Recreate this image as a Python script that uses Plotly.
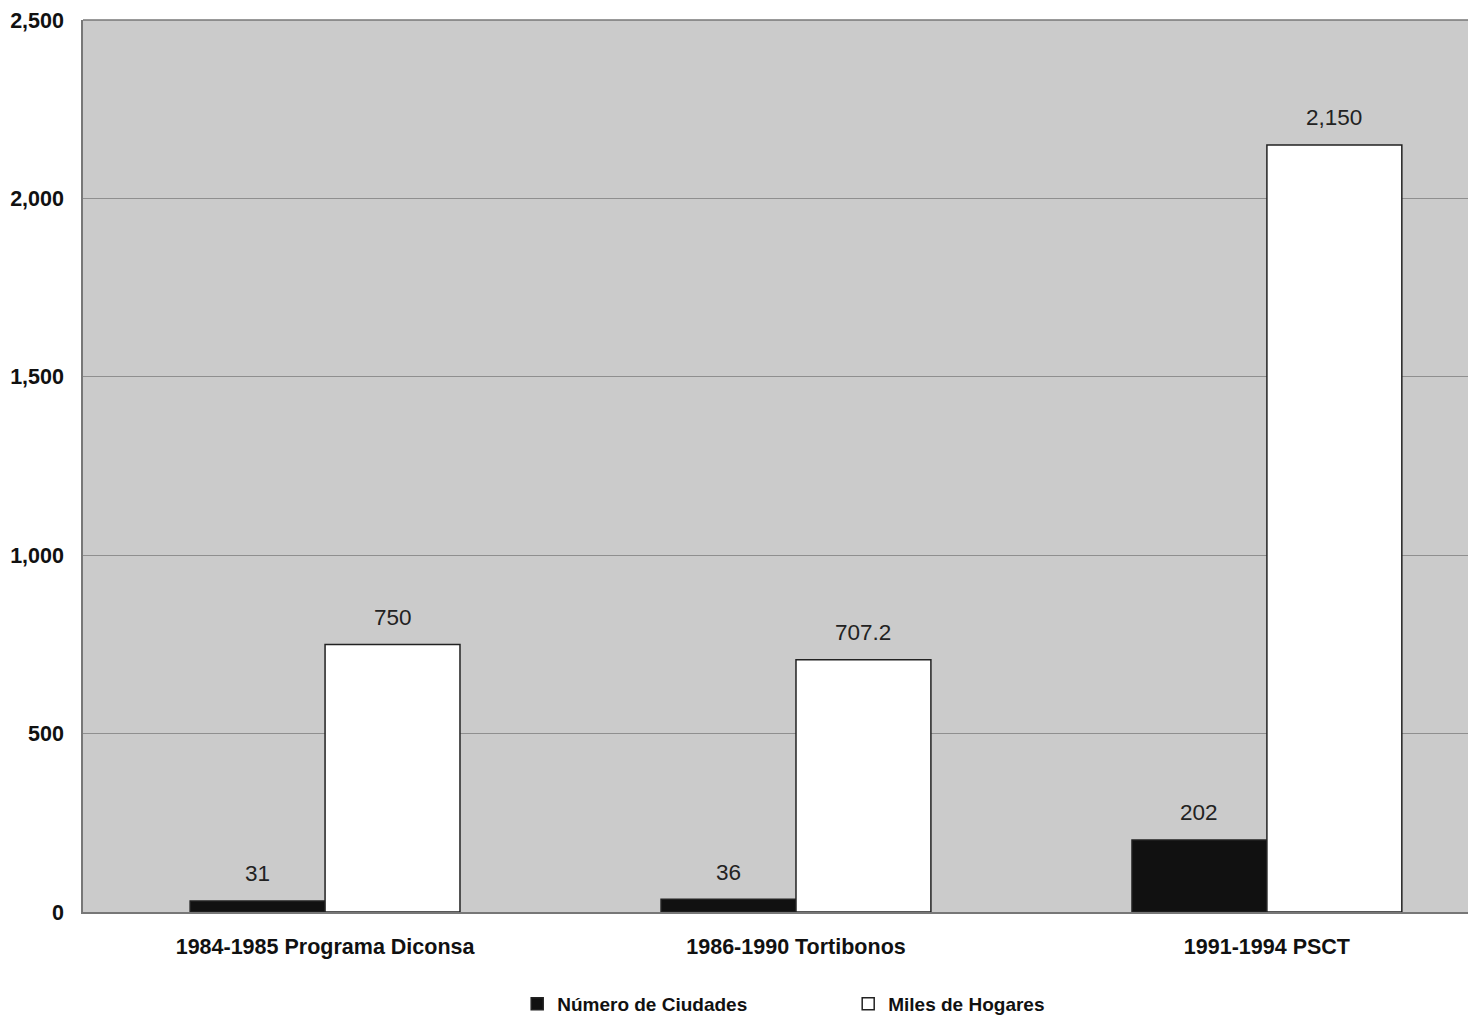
import plotly.graph_objects as go

categories = ["1984-1985 Programa Diconsa", "1986-1990 Tortibonos", "1991-1994 PSCT"]
ciudades = [31, 36, 202]
hogares = [750, 707.2, 2150]
ciudades_labels = ["31", "36", "202"]
hogares_labels = ["750", "707.2", "2,150"]
y_ticks = [0, 500, 1000, 1500, 2000, 2500]
y_tick_labels = ["0", "500", "1,000", "1,500", "2,000", "2,500"]

font_family = "Liberation Sans, Arial, sans-serif"

fig = go.Figure()
fig.add_trace(go.Bar(
    x=categories, y=ciudades, name="Número de Ciudades",
    marker=dict(color="#111111", line=dict(color="#222222", width=1.5)),
))
fig.add_trace(go.Bar(
    x=categories, y=hogares, name="Miles de Hogares",
    marker=dict(color="#ffffff", line=dict(color="#222222", width=1.5)),
))

# value labels above bars
half_offset_px = 67.5
for cat, v, lab in zip(categories, ciudades, ciudades_labels):
    fig.add_annotation(x=cat, y=v, text=lab, showarrow=False, xshift=-half_offset_px,
                       yshift=27, yanchor="middle",
                       font=dict(size=22.5, color="#222222", family=font_family))
for cat, v, lab in zip(categories, hogares, hogares_labels):
    fig.add_annotation(x=cat, y=v, text=lab, showarrow=False, xshift=half_offset_px,
                       yshift=27, yanchor="middle",
                       font=dict(size=22.5, color="#222222", family=font_family))

fig.update_layout(
    width=1479, height=1019,
    margin=dict(l=83, r=11, t=20, b=107, autoexpand=False),
    paper_bgcolor="#ffffff",
    plot_bgcolor="#cbcbcb",
    barmode="group",
    bargap=0.427,
    bargroupgap=0,
    font=dict(family=font_family, color="#111111"),
    showlegend=True,
    legend=dict(
        orientation="h", x=0.3135, xanchor="left",
        yref="container", y=0.0147, yanchor="middle",
        font=dict(size=19, color="#111111", family=font_family, weight="bold"),
        itemwidth=30, entrywidth=286, entrywidthmode="pixels",
        bgcolor="rgba(0,0,0,0)",
    ),
    xaxis=dict(
        range=[-0.514, 2.427], automargin=False,
        showgrid=False, showline=True, linecolor="#777777", linewidth=1.5,
        ticks="", tickfont=dict(size=21.5, family=font_family, color="#111111", weight="bold"),
        ticklabelstandoff=14,
    ),
    yaxis=dict(
        range=[0, 2500], tickvals=y_ticks, ticktext=y_tick_labels, automargin=False,
        showgrid=True, gridcolor="#8f8f8f", gridwidth=1,
        showline=True, linecolor="#777777", linewidth=1.5,
        mirror=False, zeroline=False,
        ticks="", tickfont=dict(size=21.5, family=font_family, color="#111111", weight="bold"),
        ticklabelstandoff=13,
    ),
)
fig.add_shape(type="line", xref="paper", yref="paper", x0=0, x1=1, y0=1, y1=1,
              line=dict(color="#777777", width=1.5))

fig.write_html("out.html", config={"displayModeBar": False},
               post_script="document.body.style.margin='0';document.body.style.overflow='hidden';")
